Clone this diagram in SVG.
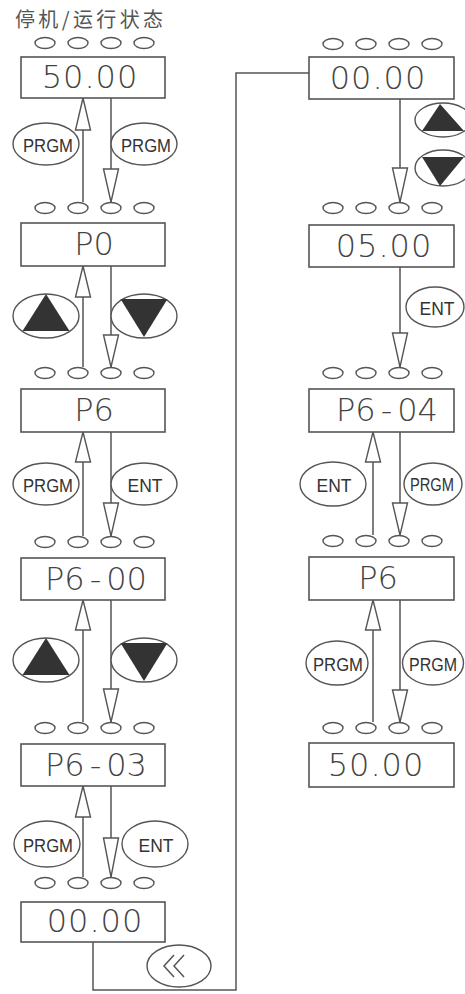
<svg xmlns="http://www.w3.org/2000/svg" xmlns:xlink="http://www.w3.org/1999/xlink" width="465" height="994" viewBox="0 0 465 994">
<style>
.box{fill:#fff;stroke:#555;stroke-width:1.6}
.ln{stroke:#555;stroke-width:1.5;fill:none}
.ah{fill:#fff;stroke:#555;stroke-width:1.4;stroke-linejoin:miter}
.btn{fill:#fff;stroke:#555;stroke-width:1.4}
.tri{fill:#333}
.dot{fill:none;stroke:#555;stroke-width:1.4}
.lcd{font-family:"DejaVu Sans",sans-serif;font-size:32px;font-weight:200;fill:#444;text-anchor:middle}
.key{font-family:"Liberation Sans",Arial,sans-serif;font-size:19px;fill:#333;text-anchor:middle}
.title{font-family:"Noto Sans CJK SC",sans-serif;font-size:20px;fill:#555}
</style>
<defs>
<g id="dots">
<ellipse class="dot" cx="0" cy="0" rx="10" ry="5.5"/>
<ellipse class="dot" cx="33" cy="0" rx="10" ry="5.5"/>
<ellipse class="dot" cx="66" cy="0" rx="10" ry="5.5"/>
<ellipse class="dot" cx="99" cy="0" rx="10" ry="5.5"/>
</g>
<g id="upbtn"><ellipse class="btn" cx="0" cy="0" rx="33" ry="22"/><polygon class="tri" points="0,-22 -23.5,15 23.5,15"/></g>
<g id="dnbtn"><ellipse class="btn" cx="0" cy="0" rx="33" ry="22"/><polygon class="tri" points="-23.5,-17 23.5,-17 0,21"/></g>
<g id="upbtn2"><ellipse class="btn" cx="0" cy="0" rx="28" ry="17"/><polygon class="tri" points="-3,-16 -21,11 21,11"/></g>
<g id="dnbtn2"><ellipse class="btn" cx="0" cy="0" rx="28" ry="18"/><polygon class="tri" points="-21,-11 21,-11 -3,18"/></g>
</defs>
<rect width="465" height="994" fill="#fff"/>

<text class="title" x="15" y="27" textLength="148" lengthAdjust="spacing">停机/运行状态</text>

<!-- indicator dots -->
<g id="indicators">
<use xlink:href="#dots" x="45" y="43"/>
<use xlink:href="#dots" x="45" y="208"/>
<use xlink:href="#dots" x="45" y="373"/>
<use xlink:href="#dots" x="45" y="542"/>
<use xlink:href="#dots" x="45" y="728"/>
<use xlink:href="#dots" x="45" y="883"/>
<use xlink:href="#dots" x="333" y="44"/>
<use xlink:href="#dots" x="333" y="208"/>
<use xlink:href="#dots" x="333" y="373"/>
<use xlink:href="#dots" x="333" y="541"/>
<use xlink:href="#dots" x="333" y="728"/>
</g>

<!-- connectors -->
<g id="connectors">
<line class="ln" x1="83" y1="202" x2="83" y2="98"/>
<polygon class="ah" points="83,98 75.5,130 90.5,130"/>
<line class="ln" x1="111" y1="98" x2="111" y2="202"/>
<polygon class="ah" points="111,202 103.5,169 118.5,169"/>
<line class="ln" x1="83" y1="367" x2="83" y2="266"/>
<polygon class="ah" points="83,266 75.5,297 90.5,297"/>
<line class="ln" x1="111" y1="266" x2="111" y2="367"/>
<polygon class="ah" points="111,367 103.5,335 118.5,335"/>
<line class="ln" x1="83" y1="536" x2="83" y2="432"/>
<polygon class="ah" points="83,432 75.5,462 90.5,462"/>
<line class="ln" x1="111" y1="432" x2="111" y2="536"/>
<polygon class="ah" points="111,536 103.5,503 118.5,503"/>
<line class="ln" x1="83" y1="722" x2="83" y2="600"/>
<polygon class="ah" points="83,600 75.5,630 90.5,630"/>
<line class="ln" x1="111" y1="600" x2="111" y2="722"/>
<polygon class="ah" points="111,722 103.5,689 118.5,689"/>
<line class="ln" x1="83" y1="877" x2="83" y2="786"/>
<polygon class="ah" points="83,786 75.5,817 90.5,817"/>
<line class="ln" x1="111" y1="786" x2="111" y2="877"/>
<polygon class="ah" points="111,877 103.5,838 118.5,838"/>
<polyline class="ln" points="93,942 93,990 236,990 236,73 309,73"/>
<line class="ln" x1="400" y1="99" x2="400" y2="202"/>
<polygon class="ah" points="400,202 392.5,168 407.5,168"/>
<line class="ln" x1="400" y1="267" x2="400" y2="367"/>
<polygon class="ah" points="400,367 392.5,333 407.5,333"/>
<line class="ln" x1="373" y1="535" x2="373" y2="432"/>
<polygon class="ah" points="373,432 365.5,462 380.5,462"/>
<line class="ln" x1="400" y1="432" x2="400" y2="535"/>
<polygon class="ah" points="400,535 392.5,503 407.5,503"/>
<line class="ln" x1="373" y1="722" x2="373" y2="600"/>
<polygon class="ah" points="373,600 365.5,630 380.5,630"/>
<line class="ln" x1="400" y1="600" x2="400" y2="722"/>
<polygon class="ah" points="400,722 392.5,690 407.5,690"/>
</g>

<!-- keys -->
<g id="keys">
<g id="k1"><ellipse class="btn" cx="46" cy="144" rx="33" ry="21"/><text class="key" x="48" y="151.5" textLength="50" lengthAdjust="spacingAndGlyphs">PRGM</text></g>
<g id="k2"><ellipse class="btn" cx="144" cy="144" rx="33" ry="21"/><text class="key" x="146" y="151.5" textLength="50" lengthAdjust="spacingAndGlyphs">PRGM</text></g>
<g id="k3"><use xlink:href="#upbtn" x="46" y="316"/></g>
<g id="k4"><use xlink:href="#dnbtn" x="144" y="316"/></g>
<g id="k5"><ellipse class="btn" cx="46" cy="484" rx="33" ry="21"/><text class="key" x="48" y="491.5" textLength="50" lengthAdjust="spacingAndGlyphs">PRGM</text></g>
<g id="k6"><ellipse class="btn" cx="144" cy="484" rx="33" ry="21"/><text class="key" x="145" y="491.5" textLength="35" lengthAdjust="spacingAndGlyphs">ENT</text></g>
<g id="k7"><use xlink:href="#upbtn" x="46" y="660"/></g>
<g id="k8"><use xlink:href="#dnbtn" x="144" y="660"/></g>
<g id="k9"><ellipse class="btn" cx="47" cy="844" rx="33" ry="23"/><text class="key" x="48" y="851.5" textLength="50" lengthAdjust="spacingAndGlyphs">PRGM</text></g>
<g id="k10"><ellipse class="btn" cx="155" cy="844" rx="33" ry="23"/><text class="key" x="156" y="851.5" textLength="35" lengthAdjust="spacingAndGlyphs">ENT</text></g>
<g id="k11"><ellipse class="btn" cx="179" cy="966" rx="32" ry="21"/>
<polyline class="ln" points="174,955 164,966 174,977" stroke-width="1.2"/><polyline class="ln" points="184,955 174,966 184,977" stroke-width="1.2"/></g>
<g id="k12"><use xlink:href="#upbtn2" x="443" y="120"/></g>
<g id="k13"><use xlink:href="#dnbtn2" x="443" y="168"/></g>
<g id="k14"><ellipse class="btn" cx="435" cy="307" rx="29" ry="20"/><text class="key" x="437" y="314.5" textLength="35" lengthAdjust="spacingAndGlyphs">ENT</text></g>
<g id="k15"><ellipse class="btn" cx="333" cy="484" rx="33" ry="22"/><text class="key" x="334" y="491.5" textLength="35" lengthAdjust="spacingAndGlyphs">ENT</text></g>
<g id="k16"><ellipse class="btn" cx="433" cy="484" rx="29" ry="21"/><text class="key" x="432" y="491" font-size="18" textLength="44" lengthAdjust="spacingAndGlyphs">PRGM</text></g>
<g id="k17"><ellipse class="btn" cx="337" cy="663" rx="31" ry="22"/><text class="key" x="338" y="670.5" textLength="50" lengthAdjust="spacingAndGlyphs">PRGM</text></g>
<g id="k18"><ellipse class="btn" cx="433" cy="663" rx="30.5" ry="22"/><text class="key" x="433" y="670.5" textLength="48" lengthAdjust="spacingAndGlyphs">PRGM</text></g>
</g>

<!-- display nodes -->
<g id="n1"><rect class="box" x="21" y="57" width="144" height="41"/><text class="lcd" x="90" y="88" letter-spacing="1">50.00</text></g>
<g id="n2"><rect class="box" x="21" y="223" width="144" height="43"/><text class="lcd" x="94" y="255">P0</text></g>
<g id="n3"><rect class="box" x="21" y="389" width="144" height="43"/><text class="lcd" x="94" y="421">P6</text></g>
<g id="n4"><rect class="box" x="21" y="558" width="144" height="42"/><text class="lcd" x="96" y="590">P6<tspan dx="5">-</tspan><tspan dx="5">00</tspan></text></g>
<g id="n5"><rect class="box" x="21" y="744" width="144" height="42"/><text class="lcd" x="96" y="776">P6<tspan dx="5">-</tspan><tspan dx="5">03</tspan></text></g>
<g id="n6"><rect class="box" x="21" y="902" width="144" height="40"/><text class="lcd" x="95" y="932" letter-spacing="1">00.00</text></g>
<g id="n7"><rect class="box" x="309" y="57" width="145" height="42"/><text class="lcd" x="378" y="89" letter-spacing="1">00.00</text></g>
<g id="n8"><rect class="box" x="309" y="225" width="145" height="42"/><text class="lcd" x="384" y="257" letter-spacing="1">05.00</text></g>
<g id="n9"><rect class="box" x="309" y="389" width="145" height="43"/><text class="lcd" x="387" y="421">P6<tspan dx="5">-</tspan><tspan dx="5">04</tspan></text></g>
<g id="n10"><rect class="box" x="309" y="557" width="145" height="43"/><text class="lcd" x="378" y="589">P6</text></g>
<g id="n11"><rect class="box" x="309" y="743" width="145" height="44"/><text class="lcd" x="376" y="776" letter-spacing="1">50.00</text></g>
</svg>
